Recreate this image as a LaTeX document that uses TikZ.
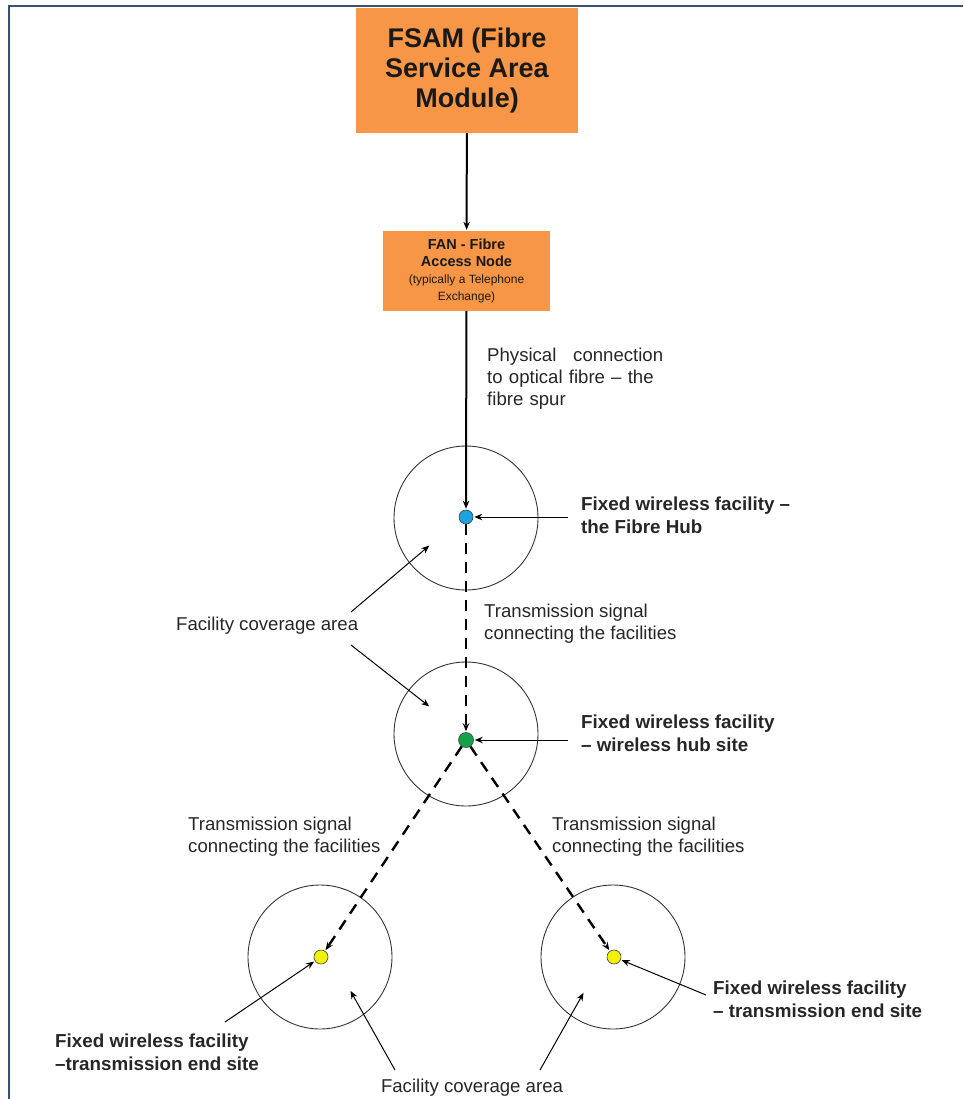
\documentclass[tikz,border=0pt]{standalone}
\usepackage{fontspec}
\setmainfont{Liberation Sans}
\usetikzlibrary{positioning, arrows.meta}
\definecolor{fsamorange}{HTML}{F79646}
\definecolor{framecol}{HTML}{3C4F6E}
\definecolor{hubblue}{HTML}{1AA3E0}
\definecolor{hubgreen}{HTML}{13A24A}
\definecolor{endyellow}{HTML}{F2F200}

\begin{document}
\begin{tikzpicture}[x=1pt, y=-1pt, >={Stealth[length=8pt, width=6.5pt]},
	orangebox/.style={fill=fsamorange, draw=none, align=center, inner sep=0pt, text=black!90},
	sitedot/.style={circle, draw=black!75, line width=0.6pt, minimum size=14pt, inner sep=0pt},
	coverage/.style={circle, draw=black!80, line width=0.9pt, minimum size=144pt, inner sep=0pt},
	notetext/.style={align=left, inner sep=0pt, text=black!85, font=\fontsize{18.6}{22}\selectfont},
	boldnote/.style={notetext, font=\fontsize{18.8}{23}\selectfont\bfseries},
	fibrelink/.style={->, line width=2pt, shorten >=1pt},
	signallink/.style={->, line width=2.4pt, dash pattern=on 11pt off 8pt, shorten >=1pt},
	pointer/.style={->, line width=1pt, shorten >=1pt}]
	\useasboundingbox (0,0) rectangle (963,1099);
	\draw[framecol, line width=2.5pt] (963,6) -- (9,6) -- (9,1099);

	% boxes at the top
	\node[orangebox, minimum width=222pt, minimum height=125pt,
		font=\fontsize{27}{30}\selectfont\bfseries] (fsam) at (467,70.5)
		{FSAM (Fibre\\Service Area\\Module)};
	\node[orangebox, minimum width=167pt, minimum height=80pt,
		font=\fontsize{14.5}{17}\selectfont\bfseries] (fan) at (466.5,271)
		{FAN - Fibre\\Access Node\\\fontsize{12}{13.5}\selectfont\mdseries(typically a Telephone\\\fontsize{12}{13.5}\selectfont\mdseries Exchange)};

	% facilities and their coverage
	\node[coverage] (cov1) at (466,518) {};
	\node[coverage] (cov2) at (466,734) {};
	\node[coverage] (cov3) at (320,957) {};
	\node[coverage] (cov4) at (613,957) {};
	\node[sitedot, fill=hubblue] (hub) at (466,517) {};
	\node[sitedot, fill=hubgreen, minimum size=15pt] (whub) at (466,740) {};
	\node[sitedot, fill=endyellow] (endl) at (321,957) {};
	\node[sitedot, fill=endyellow] (endr) at (614,957) {};

	% labels
	\node[notetext, text width=176pt, anchor=west] (spur) at (487,379)
		{Physical\hfill connection\\to optical fibre -- the\\fibre spur};
	\node[boldnote, anchor=west] (hublbl) at (581,515)
		{Fixed wireless facility --\\the Fibre Hub};
	\node[notetext, anchor=west] (sig1) at (484,624)
		{Transmission signal\\connecting the facilities};
	\node[notetext, anchor=west] (covlbl) at (176,626) {Facility coverage area};
	\node[boldnote, anchor=west] (whublbl) at (581,733)
		{Fixed wireless facility\\-- wireless hub site};
	\node[notetext, anchor=west] (sig2) at (188,837)
		{Transmission signal\\connecting the facilities};
	\node[notetext, anchor=west] (sig3) at (552,837)
		{Transmission signal\\connecting the facilities};
	\node[boldnote, anchor=west] (endlbl) at (55,1052)
		{Fixed wireless facility\\--transmission end site};
	\node[boldnote, anchor=west] (endrlbl) at (713,999)
		{Fixed wireless facility\\-- transmission end site};
	\node[notetext] (covlbl2) at (472,1088) {Facility coverage area};

	% free ends of the pointers
	\coordinate (p1) at (351,612);
	\coordinate (p2) at (351,645);
	\coordinate (p1tip) at (430,545);
	\coordinate (p2tip) at (430,707);
	\coordinate (p3) at (395,1070);
	\coordinate (p4) at (540,1070);
	\coordinate (p3tip) at (350,990);
	\coordinate (p4tip) at (584,992);
	\coordinate (q1) at (568,517);
	\coordinate (q2) at (568,740);
	\coordinate (q3) at (225,1022);
	\coordinate (q4) at (706,995);

	% connections
	\path[fibrelink]
		(fsam) edge (fan)
		(fan) edge (hub);
	\path[signallink]
		(hub) edge (whub)
		(whub) edge (endl)
		(whub) edge (endr);
	\path[pointer]
		(q1) edge (hub)
		(q2) edge (whub)
		(q3) edge (endl)
		(q4) edge (endr)
		(p1) edge (p1tip)
		(p2) edge (p2tip)
		(p3) edge (p3tip)
		(p4) edge (p4tip);
\end{tikzpicture}
\end{document}
